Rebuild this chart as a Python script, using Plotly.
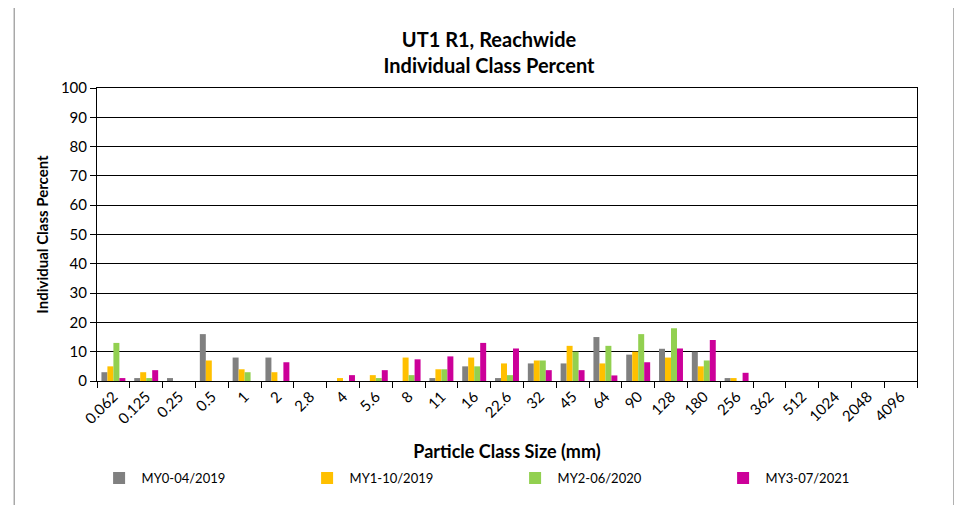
import plotly.graph_objects as go

categories = ["0.062", "0.125", "0.25", "0.5", "1", "2", "2.8", "4", "5.6", "8", "11", "16",
              "22.6", "32", "45", "64", "90", "128", "180", "256", "362", "512", "1024", "2048", "4096"]

my0 = [3, 1, 1, 16, 8, 8, 0, 0, 0, 0, 1, 5, 1, 6, 6, 15, 9, 11, 10, 1, 0, 0, 0, 0, 0]
my1 = [5, 3, 0, 7, 4, 3, 0, 1, 2, 8, 4, 8, 6, 7, 12, 6, 10, 8, 5, 1, 0, 0, 0, 0, 0]
my2 = [13, 1, 0, 0, 3, 0, 0, 0, 1, 2, 4, 5, 2, 7, 10, 12, 16, 18, 7, 0, 0, 0, 0, 0, 0]
my3 = [1, 3.7, 0, 0, 0, 6.4, 0, 2, 3.7, 7.4, 8.4, 13, 11.1, 3.7, 3.7, 1.9, 6.4, 11.1, 14, 2.8, 0, 0, 0, 0, 0]

series_names = ["MY0-04/2019", "MY1-10/2019", "MY2-06/2020", "MY3-07/2021"]
series_values = [my0, my1, my2, my3]
colors = ["#808080", "#FFC000", "#92D050", "#CC0099"]

FONT = "Lato, 'Open Sans', Arial, sans-serif"

fig = go.Figure()
for name, vals, col in zip(series_names, series_values, colors):
    fig.add_trace(go.Bar(x=categories, y=vals, name=name, marker=dict(color=col, line=dict(width=0))))

fig.update_layout(
    width=962, height=505,
    paper_bgcolor="white", plot_bgcolor="white",
    font=dict(family=FONT, size=14, color="black"),
    margin=dict(l=89, r=53, t=80, b=132, autoexpand=False),
    barmode="group", bargap=0.27, bargroupgap=0,
    title=dict(text="<b>UT1 R1, Reachwide<br>Individual Class Percent</b>",
               x=0.5, xanchor="center", y=0.923, yanchor="top",
               font=dict(size=20, family=FONT, color="black")),
    legend=dict(orientation="h", x=-0.0005, xanchor="left", y=-0.331, yanchor="middle",
                font=dict(size=13, family=FONT), entrywidth=158, itemwidth=35,
                traceorder="normal"),
    xaxis=dict(type="category", tickangle=-45, showgrid=False, automargin=False,
               showline=True, linecolor="black", linewidth=1, mirror=True,
               ticks="outside", tickson="boundaries", ticklen=6, tickcolor="black",
               tickfont=dict(size=15, family=FONT),
               title=dict(text="<b>Particle Class Size (mm)</b>", font=dict(size=18, family=FONT), standoff=19)),
    yaxis=dict(range=[0, 100], dtick=10, showgrid=True, gridcolor="black", gridwidth=1,
               showline=True, linecolor="black", linewidth=1, mirror=True, automargin=False,
               ticks="outside", ticklen=6, tickcolor="black",
               tickfont=dict(size=15, family=FONT),
               title=dict(text="<b>Individual Class Percent</b>", font=dict(size=15, family=FONT), standoff=8)),
)

fig.add_shape(type="rect", xref="paper", yref="paper", x0=-0.101, x1=1.045, y0=-0.6, y1=1.276,
              line=dict(color="#7f7f7f", width=1), layer="below")

fig.write_html("out.html")
